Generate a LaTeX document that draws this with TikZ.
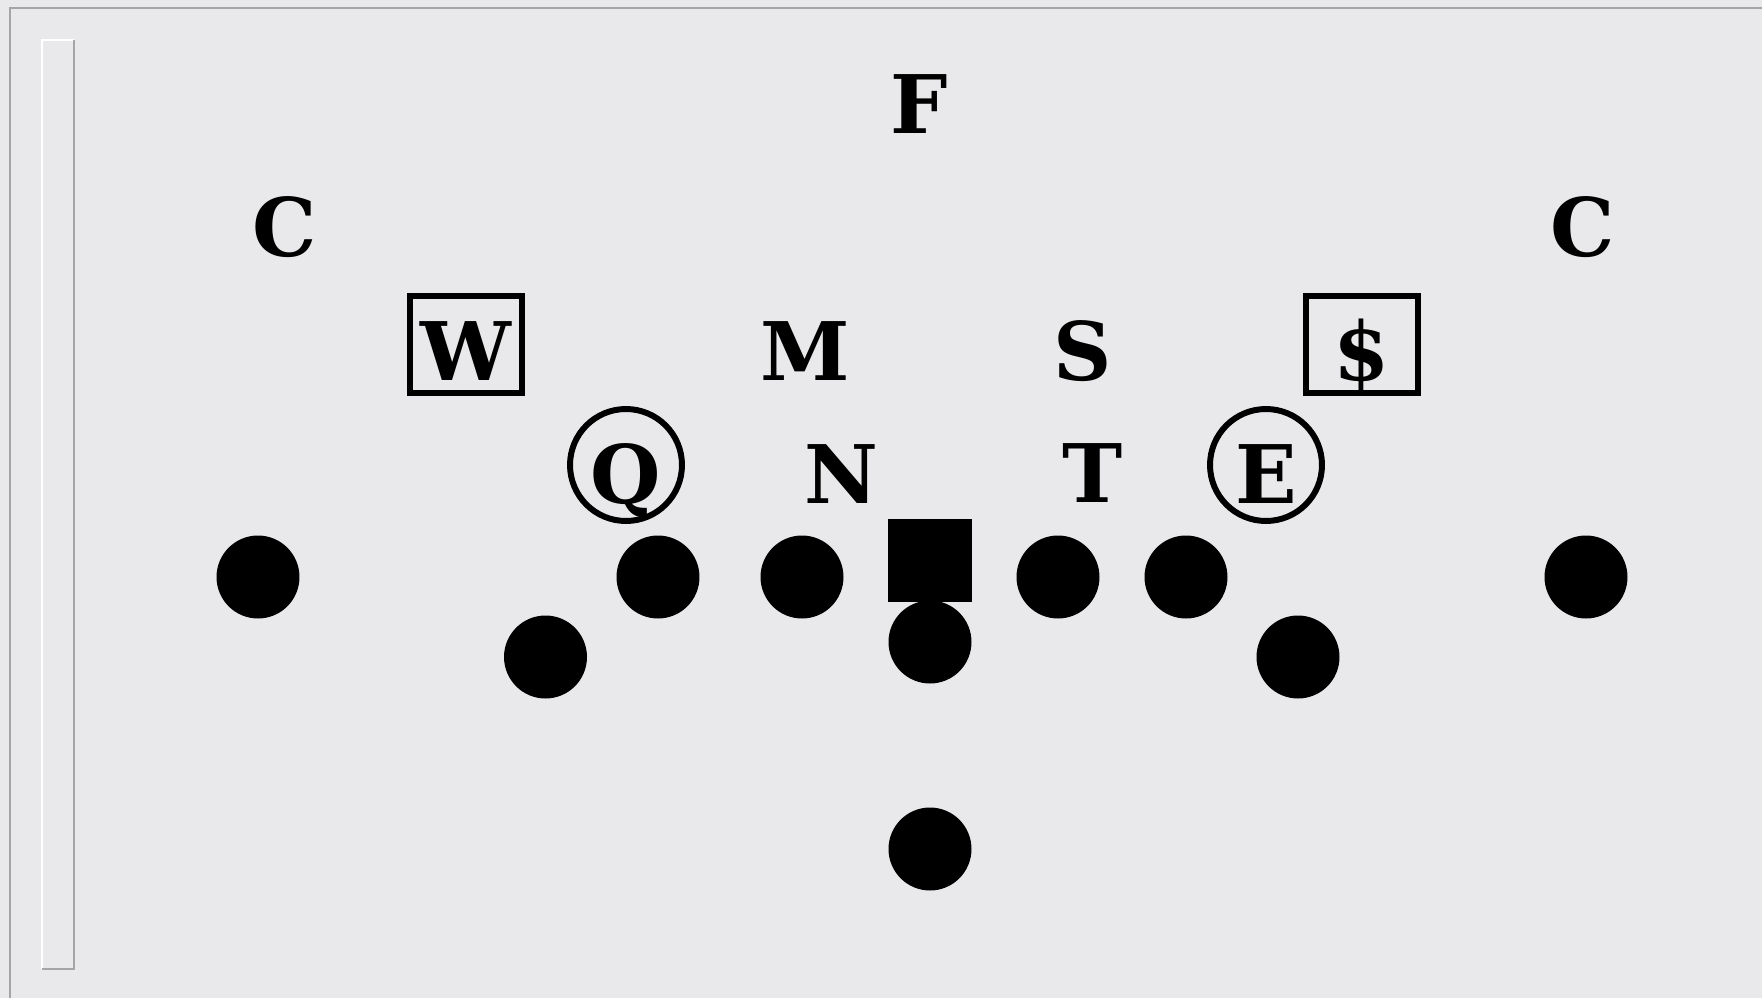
\documentclass[tikz,border=0pt]{standalone}
\usepackage{fontspec}
\newfontfamily\markfont{DejaVu Serif}[UprightFont={* Bold}]
\usetikzlibrary{positioning}
\definecolor{marble}{RGB}{233,233,235}
\definecolor{frameline}{RGB}{165,165,168}

\begin{document}
\begin{tikzpicture}[
    x=0.02cm, y=-0.02cm,
    letter/.style={font=\markfont\fontsize{46}{56}\selectfont, inner sep=0pt, anchor=base},
    boxed/.style={rectangle, draw, line width=3.7pt, inner sep=0pt, minimum width=2.24cm, minimum height=1.94cm, text height=1.42cm, text depth=0pt, font=\markfont\fontsize{46}{56}\selectfont},
    ringed/.style={circle, draw, line width=3.4pt, inner sep=0pt, minimum size=2.24cm, text height=1.52cm, text depth=0pt, font=\markfont\fontsize{46}{56}\selectfont},
    player/.style={circle, fill=black, inner sep=0pt, minimum size=1.66cm},
    snapper/.style={rectangle, fill=black, inner sep=0pt, minimum size=1.67cm}
]
    \useasboundingbox (0,0) rectangle (1762,998);
    \fill[marble] (0,0) rectangle (1762,998);
    \draw[frameline, line width=1.2pt] (10,998) -- (10,8) -- (1762,8);
    \draw[white, line width=1.2pt] (74,40) -- (42,40) -- (42,969);
    \draw[frameline, line width=1.2pt] (42,969) -- (74,969) -- (74,40);

    \node[letter] (free) at (919,133) {F};
    \node[letter] (lcorner) at (285,256) {C};
    \node[letter] (rcorner) at (1583,256) {C};

    \node[boxed] (will) at (466,344.5) {W};
    \node[letter] (mike) at (805,380) {M};
    \node[letter] (sam) at (1083,380) {S};
    \node[boxed] (money) at (1362,344.5) {\$};

    \node[ringed] (qend) at (626,465) {Q};
    \node[letter] (nose) at (841,503) {N};
    \node[letter] (tackle) at (1093,502) {T};
    \node[ringed] (eend) at (1266,465) {E};

    \node[player] (split) at (258,577) {};
    \node[player] (ltackle) at (658,577) {};
    \node[player] (lguard) at (802,577) {};
    \node[snapper] (center) at (930,560.5) {};
    \node[player] (rguard) at (1058,577) {};
    \node[player] (rtackle) at (1186,577) {};
    \node[player] (flanker) at (1586,577) {};

    \node[player] (lwing) at (545.5,657) {};
    \node[player] (qb) at (930,642) {};
    \node[player] (rwing) at (1298,657) {};

    \node[player] (back) at (930,849) {};
\end{tikzpicture}
\end{document}
